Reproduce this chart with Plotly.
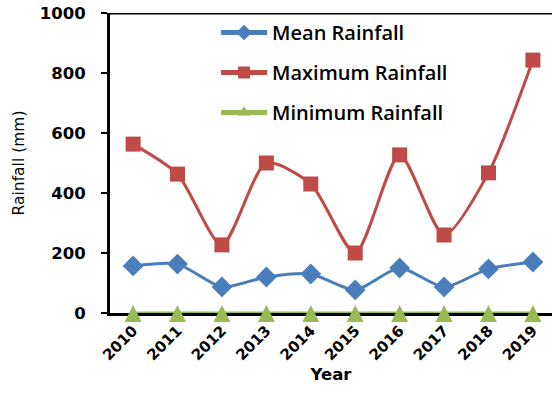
import plotly.graph_objects as go

years = ["2010", "2011", "2012", "2013", "2014", "2015", "2016", "2017", "2018", "2019"]
mean_rain = [157, 163, 87, 120, 130, 77, 150, 87, 147, 170]
max_rain = [563, 463, 227, 500, 430, 200, 527, 260, 467, 843]
min_rain = [0, 0, 0, 0, 0, 0, 0, 0, 0, 0]

FONT = "Open Sans"
AXIS_FONT = "DejaVu Sans"
BLUE, RED, GREEN = "#4A7EBB", "#BE4B48", "#98B954"

fig = go.Figure()
series = [
    ("Mean Rainfall", mean_rain, BLUE, dict(symbol="diamond", size=16)),
    ("Maximum Rainfall", max_rain, RED, dict(symbol="square", size=15)),
    ("Minimum Rainfall", min_rain, GREEN, dict(symbol="triangle-up", size=9)),
]
for i, (name, vals, color, mk) in enumerate(series):
    fig.add_trace(go.Scatter(
        x=years, y=vals, name=name, mode="lines+markers",
        line=dict(color=color, width=3, shape="spline", smoothing=0.7),
        marker=dict(color=color, **mk),
        legendgroup=f"g{i}", cliponaxis=False,
    ))

# larger triangles for the minimum series: a flipped arrow head (tip up),
# lifted by the standoff so each one is centred on its value
fig.add_trace(go.Scatter(
    x=years, y=min_rain, mode="markers", showlegend=False, hoverinfo="skip",
    marker=dict(symbol="arrow-down", angle=180, size=17, standoff=8, color=GREEN),
    legendgroup="g2", cliponaxis=False,
))

fig.update_layout(
    width=552, height=405,
    margin=dict(l=110, r=0, t=13, b=92),
    paper_bgcolor="white", plot_bgcolor="white",
    font=dict(family=FONT, color="black"),
    showlegend=True,
    legend=dict(
        x=0.24, y=1.0, xanchor="left", yanchor="top",
        bgcolor="rgba(0,0,0,0)", font=dict(size=20, color="black", weight=600),
        tracegroupgap=11, itemwidth=46, itemsizing="constant",
    ),
    xaxis=dict(
        type="category", range=[-0.52, 9.43],
        showline=True, linecolor="black", linewidth=3, layer="below traces",
        ticks="", tickangle=-45, showgrid=False, zeroline=False,
        tickfont=dict(size=15, family=AXIS_FONT, weight="bold"),
        title=dict(text="<b>Year</b>", font=dict(size=16.5, family=AXIS_FONT), standoff=6),
    ),
    yaxis=dict(
        range=[0, 1000], tickvals=[0, 200, 400, 600, 800, 1000],
        showline=True, linecolor="black", linewidth=3,
        ticks="outside", ticklen=6, tickwidth=2, tickcolor="black",
        ticklabelstandoff=12,
        showgrid=False, zeroline=False,
        tickfont=dict(size=16.5, family=AXIS_FONT, weight="bold"),
        title=dict(text="Rainfall (mm)", font=dict(size=15.5, family=AXIS_FONT), standoff=12),
    ),
    shapes=[dict(type="line", xref="paper", yref="y", x0=0, x1=1, y0=1000, y1=1000,
                 line=dict(color="black", width=3))],
)

fig.write_html("out.html")
